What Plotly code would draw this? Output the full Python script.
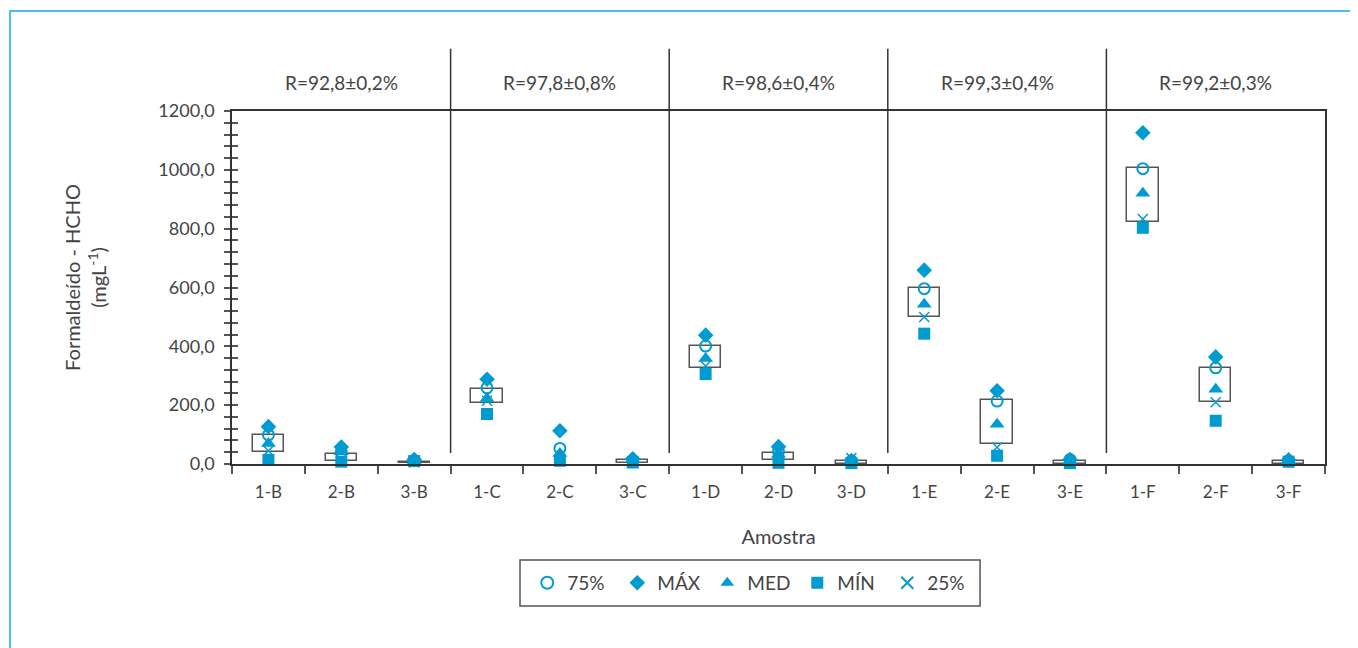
import plotly.graph_objects as go

categories = ["1-B", "2-B", "3-B", "1-C", "2-C", "3-C", "1-D", "2-D", "3-D",
              "1-E", "2-E", "3-E", "1-F", "2-F", "3-F"]
p75 = [99, 40, 12, 259, 53, 12, 401, 42, 10, 596, 214, 15, 1004, 327, 10]
vmax = [127, 58, 15, 288, 113, 18, 438, 59, 12, 659, 249, 15, 1126, 364, 14]
vmed = [70, 42, 12, 223, 36, 15, 359, 33, 8, 543, 135, 10, 920, 254, 12]
vmin = [14, 8, 10, 170, 11, 5, 306, 4, 3, 443, 28, 3, 803, 147, 8]
p25 = [45, 12, 5, 215, 15, 8, 333, 13, 20, 500, 57, 7, 833, 210, 6]
box_lo = [41, 10, 2, 206, None, 4, 327, 13, 0, 500, 67, 0, 823, 212, 0]
box_hi = [99, 33, 6, 255, None, 13, 402, 36, 10, 597, 217, 10, 1007, 326, 11]
groups_center = ["2-B", "2-C", "2-D", "2-E", "2-F"]
recovery = ["R=92,8±0,2%", "R=97,8±0,8%", "R=98,6±0,4%", "R=99,3±0,4%", "R=99,2±0,3%"]

BLUE = "#009BD0"
TXT = "#444444"
LINE = "#333333"
FONT = "Lato"

fig = go.Figure()

fig.add_trace(go.Bar(
    x=categories,
    base=box_lo,
    y=[(h - l) if (h is not None and l is not None) else None for h, l in zip(box_hi, box_lo)],
    width=0.43,
    marker=dict(color="rgba(255,255,255,0)", line=dict(color="#555555", width=1.5)),
    showlegend=False, hoverinfo="skip",
))

series = [
    ("75%", p75, dict(symbol="circle-open", size=11, color=BLUE, line=dict(width=2, color=BLUE))),
    ("MÁX", vmax, dict(symbol="diamond", size=12, color=BLUE)),
    ("MED", vmed, dict(symbol="triangle-up", size=13, color=BLUE)),
    ("MÍN", vmin, dict(symbol="square", size=12, color=BLUE)),
    ("25%", p25, dict(symbol="x-thin-open", size=10, color=BLUE, line=dict(width=1.5, color=BLUE))),
]
for name, vals, mk in series:
    fig.add_trace(go.Scatter(x=categories, y=vals, mode="markers", name=name,
                             marker=mk, cliponaxis=False))

# inside ticks (to make the y ticks cross the axis)
fig.add_trace(go.Scatter(x=[categories[0]], y=[0], yaxis="y2", showlegend=False,
                         mode="markers", marker=dict(size=1, opacity=0), hoverinfo="skip"))

for x0 in [2.5, 5.5, 8.5, 11.5]:
    fig.add_shape(type="line", xref="x", yref="paper", x0=x0, x1=x0, y0=0.031, y1=1.176,
                  line=dict(color=LINE, width=1.5))

for c, t in zip(groups_center, recovery):
    fig.add_annotation(x=c, y=1.082, xref="x", yref="paper", text=t, showarrow=False,
                       yanchor="middle", font=dict(family=FONT, size=19, color=TXT))

# y-axis title
fig.add_annotation(x=-0.1345, y=0.53, xref="paper", yref="paper", showarrow=False,
                   text="Formaldeído - HCHO<br>(mgL<sup>-1</sup>)", textangle=-90,
                   xanchor="center", yanchor="middle",
                   font=dict(family=FONT, size=20, color=TXT))

# outer light-blue frame
fig.add_shape(type="rect", xref="paper", yref="paper", x0=-0.2031, x1=1.2, y0=-0.8, y1=1.2833,
              line=dict(color="#4CC0EA", width=2), fillcolor="rgba(0,0,0,0)", layer="below")
# legend frame
fig.add_shape(type="rect", xref="paper", yref="paper", x0=0.2635, x1=0.6844, y0=-0.4023, y1=-0.272,
              line=dict(color="#555555", width=1.5), fillcolor="rgba(0,0,0,0)")

fig.update_layout(
    width=1358, height=648,
    margin=dict(l=224, r=41, t=103, b=192),
    paper_bgcolor="white", plot_bgcolor="white",
    separators=",.",
    font=dict(family=FONT, size=17, color=TXT),
    showlegend=True,
    legend=dict(orientation="h", x=0.476, xanchor="center", y=-0.337, yanchor="middle",
                borderwidth=0, bgcolor="rgba(0,0,0,0)",
                font=dict(family=FONT, size=19, color=TXT),
                entrywidth=45, itemsizing="constant"),
    bargap=0,
    xaxis=dict(type="category", range=[-0.5, 14.5], tickson="boundaries", ticks="outside",
               ticklen=8, tickcolor="#555", ticklabelstandoff=12,
               tickwidth=1.5, showline=True, linecolor=LINE, linewidth=1.5, mirror=True,
               showgrid=False, zeroline=False,
               title=dict(text="Amostra", standoff=29, font=dict(family=FONT, size=20, color=TXT)),
               tickfont=dict(family=FONT, size=17, color=TXT)),
    yaxis=dict(range=[0, 1200], tickmode="linear", tick0=0, dtick=200, tickformat=".1f",
               ticks="outside", ticklen=6, tickwidth=1.5, tickcolor="#555",
               minor=dict(dtick=40, ticks="outside", ticklen=6, tickwidth=1.5, tickcolor="#555"),
               showline=True, linecolor=LINE, linewidth=1.5, mirror=True,
               showgrid=False, zeroline=False, ticklabelstandoff=6,
               tickfont=dict(family=FONT, size=18, color=TXT)),
    yaxis2=dict(range=[0, 1200], overlaying="y", side="left", tickmode="linear", tick0=0, dtick=200,
                ticks="inside", ticklen=6, tickwidth=1.5, tickcolor="#555", showticklabels=False,
                minor=dict(dtick=40, ticks="inside", ticklen=6, tickwidth=1.5, tickcolor="#555"),
                showline=False, showgrid=False, zeroline=False),
)

fig.write_html("out.html")
